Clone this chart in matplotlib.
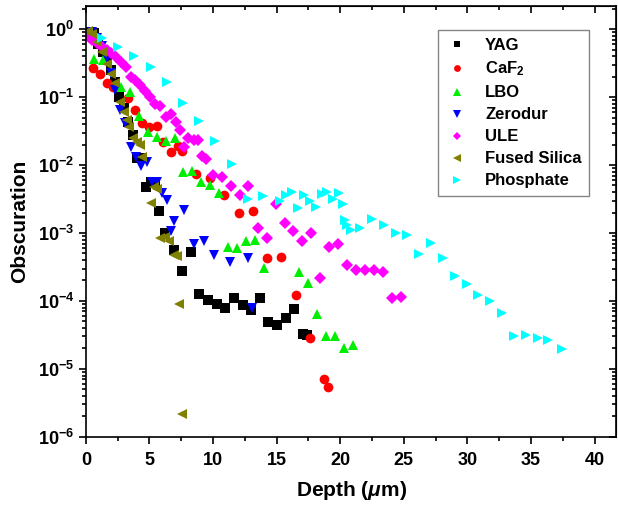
import matplotlib
matplotlib.use('Agg')
import matplotlib.pyplot as plt
from matplotlib.ticker import LogLocator, MultipleLocator, NullFormatter

plt.rcParams['font.family'] = 'Liberation Sans'
plt.rcParams['font.weight'] = 'bold'
plt.rcParams['mathtext.fontset'] = 'custom'
plt.rcParams['mathtext.rm'] = 'Liberation Sans:bold'
plt.rcParams['mathtext.bf'] = 'Liberation Sans:bold'
plt.rcParams['mathtext.it'] = 'Liberation Sans:italic:bold'
plt.rcParams['mathtext.default'] = 'bf'

# depth (um) and obscuration for each material
yag_x = [0.16, 0.63, 0.94, 1.34, 1.65, 1.96, 2.28, 2.59, 2.99, 3.30, 3.69, 4.01, 4.32,
         4.72, 5.11, 5.42, 5.74, 6.21, 6.92, 7.54, 8.25, 8.88, 9.59, 10.29, 10.92,
         11.63, 12.34, 12.97, 13.67, 14.30, 15.01, 15.72, 16.35, 17.05, 17.37]
yag_y = [0.92, 0.87, 0.60, 0.46, 0.35, 0.25, 0.166, 0.10, 0.069, 0.043, 0.0276, 0.0127,
         0.0127, 0.0047, 0.0056, 0.0056, 0.0021, 0.001, 5.6e-4, 2.76e-4, 5.3e-4, 1.27e-4,
         1.03e-4, 9.0e-5, 7.9e-5, 1.1e-4, 8.7e-5, 7.4e-5, 1.1e-4, 4.9e-5, 4.4e-5,
         5.6e-5, 7.6e-5, 3.3e-5, 3.2e-5]

caf2_x = [0.55, 1.10, 1.65, 2.12, 3.30, 3.85, 4.40, 4.95, 5.58, 6.05, 6.68, 7.23, 7.54,
          8.64, 9.74, 10.84, 12.02, 13.12, 14.22, 15.32, 16.50, 17.60, 18.70, 19.02]
caf2_y = [0.267, 0.218, 0.161, 0.140, 0.097, 0.064, 0.041, 0.036, 0.037, 0.022, 0.0155,
          0.019, 0.016, 0.0074, 0.0064, 0.0036, 0.0020, 0.0021, 4.3e-4, 4.4e-4, 1.22e-4,
          2.86e-5, 7.1e-6, 5.4e-6]

lbo_x = [0.63, 1.34, 2.75, 3.46, 4.16, 4.87, 5.58, 6.29, 6.99, 7.62, 8.33, 9.04, 9.74,
         10.45, 11.16, 11.87, 12.57, 13.28, 13.99, 16.74, 17.45, 18.15, 18.86, 19.57,
         20.27, 20.98]
lbo_y = [0.362, 0.35, 0.14, 0.119, 0.053, 0.0306, 0.0258, 0.0225, 0.025, 0.0079, 0.0082,
         0.0056, 0.0051, 0.0039, 6.2e-4, 6.0e-4, 7.6e-4, 7.9e-4, 3.06e-4, 2.67e-4,
         1.84e-4, 6.4e-5, 3.06e-5, 3.06e-5, 2.0e-5, 2.25e-5]

zer_x = [0.47, 0.86, 1.26, 1.65, 1.96, 2.28, 2.67, 3.06, 3.54, 3.93, 4.32, 4.79, 5.19,
         5.58, 5.97, 6.37, 6.68, 6.92, 7.70, 8.49, 9.27, 10.06, 11.32, 12.73, 13.05]
zer_y = [0.90, 0.74, 0.56, 0.37, 0.225, 0.127, 0.064, 0.041, 0.0184, 0.0131, 0.0097,
         0.0111, 0.0056, 0.0056, 0.0039, 0.0031, 0.00107, 0.0015, 0.0022, 6.9e-4,
         7.6e-4, 4.7e-4, 3.75e-4, 4.3e-4, 7.9e-5]

ule_x = [0.24, 0.47, 0.86, 1.26, 1.65, 1.96, 2.36, 2.75, 3.14, 3.54, 3.85, 4.24, 4.64,
         5.03, 5.42, 5.82, 6.29, 6.68, 7.07, 7.39, 7.70, 8.02, 8.49, 8.80, 9.12, 9.43,
         9.98, 10.69, 11.39, 12.10, 12.73, 13.52, 14.22, 14.93, 15.64, 16.27, 16.97,
         17.68, 18.39, 19.10, 19.80, 20.51, 21.22, 21.93, 22.63, 23.34, 24.05, 24.75]
ule_y = [0.76, 0.69, 0.62, 0.54, 0.49, 0.44, 0.39, 0.33, 0.276, 0.197, 0.178, 0.15,
         0.122, 0.10, 0.079, 0.074, 0.051, 0.056, 0.043, 0.033, 0.0184, 0.025, 0.0233,
         0.0233, 0.0136, 0.0123, 0.0071, 0.0067, 0.0049, 0.0036, 0.0049, 0.00119,
         8.4e-4, 0.0027, 0.0014, 0.00107, 7.6e-4, 0.001, 2.2e-4, 6.2e-4, 6.9e-4, 3.4e-4,
         2.86e-4, 2.86e-4, 2.86e-4, 2.67e-4, 1.1e-4, 1.15e-4]

fs_x = [0.16, 0.47, 0.86, 1.26, 1.65, 1.96, 2.28, 2.67, 2.99, 3.22, 3.38, 3.69, 4.01,
        4.24, 4.40, 5.34, 5.58, 5.11, 5.82, 6.21, 6.52, 6.92, 7.15, 7.31, 7.54]
fs_y = [0.95, 0.84, 0.64, 0.46, 0.31, 0.22, 0.161, 0.084, 0.060, 0.046, 0.036, 0.025,
        0.0218, 0.0197, 0.0131, 0.0047, 0.0044, 0.0028, 8.4e-4, 8.7e-4, 7.6e-4, 4.7e-4,
        4.6e-4, 9.0e-5, 2.2e-6]

pho_x = [1.26, 2.51, 3.77, 5.11, 6.37, 7.62, 8.88, 10.14, 11.47, 12.73, 13.91, 15.25,
         15.72, 16.19, 16.66, 17.13, 17.60, 18.07, 18.55, 18.94, 19.41, 19.88, 20.20,
         20.35, 20.51, 20.82, 21.53, 22.48, 23.42, 24.36, 25.23, 26.17, 27.11, 28.06,
         29.00, 29.94, 30.81, 31.75, 32.69, 33.63, 34.58, 35.52, 36.38, 37.41]
pho_y = [0.74, 0.54, 0.40, 0.276, 0.166, 0.082, 0.044, 0.0225, 0.0103, 0.0032, 0.0035,
         0.00296, 0.0036, 0.0040, 0.00233, 0.0036, 0.00296, 0.0024, 0.00375, 0.0040,
         0.0032, 0.0039, 0.0027, 0.00155, 0.00131, 0.0011, 0.00119, 0.0016, 0.00131,
         0.001, 9.3e-4, 4.9e-4, 7.1e-4, 4.3e-4, 2.33e-4, 1.78e-4, 1.22e-4, 1.0e-4,
         6.7e-5, 3.06e-5, 3.2e-5, 2.86e-5, 2.67e-5, 1.97e-5]

series = [
    ('YAG', yag_x, yag_y, 's', '#000000', 6.5),
    (r'CaF$_2$', caf2_x, caf2_y, 'o', '#ff0000', 7),
    ('LBO', lbo_x, lbo_y, '^', '#00ee00', 7.5),
    ('Zerodur', zer_x, zer_y, 'v', '#0000ff', 7.5),
    ('ULE', ule_x, ule_y, 'D', '#ff00ff', 6.3),
    ('Fused Silica', fs_x, fs_y, '<', '#808000', 7.5),
    ('Phosphate', pho_x, pho_y, '>', '#00ffff', 7.5),
]

fig = plt.figure(figsize=(6.18, 5.08), dpi=100)
ax = fig.add_axes([0.139, 0.140, 0.858, 0.848])

for label, xs, ys, m, c, ms in series:
    ax.plot(xs, ys, linestyle='none', marker=m, color=c, markersize=ms,
            markeredgewidth=0, label=label)

ax.set_yscale('log')
ax.set_xlim(0, 41.7)
ax.set_ylim(1e-6, 2.18)
ax.xaxis.set_major_locator(MultipleLocator(5))
ax.xaxis.set_minor_locator(MultipleLocator(2.5))
ax.yaxis.set_major_locator(LogLocator(base=10, numticks=10))
ax.yaxis.set_minor_locator(LogLocator(base=10, subs=range(2, 10), numticks=20))
ax.yaxis.set_minor_formatter(NullFormatter())

for s in ax.spines.values():
    s.set_linewidth(1.2)
ax.tick_params(which='both', direction='out', width=1.2, labelsize=13)
ax.tick_params(which='major', length=5)
ax.tick_params(which='minor', length=3)
ax.tick_params(axis='x', which='major', pad=6)
ax.tick_params(axis='x', which='both', top=False)
ax.tick_params(axis='y', which='both', right=False)
for lab in ax.get_xticklabels() + ax.get_yticklabels():
    lab.set_fontweight('bold')

# inward ticks on the top and right
sec_x = ax.secondary_xaxis('top')
sec_x.xaxis.set_major_locator(MultipleLocator(5))
sec_x.xaxis.set_minor_locator(MultipleLocator(2.5))
sec_x.tick_params(which='both', direction='in', width=1.2, labeltop=False)
sec_x.tick_params(which='major', length=5)
sec_x.tick_params(which='minor', length=3)
sec_y = ax.secondary_yaxis('right')
sec_y.set_yscale('log')
sec_y.yaxis.set_major_locator(LogLocator(base=10, numticks=10))
sec_y.yaxis.set_minor_locator(LogLocator(base=10, subs=range(2, 10), numticks=20))
sec_y.tick_params(which='both', direction='in', width=1.2, labelright=False)
sec_y.tick_params(which='major', length=5)
sec_y.tick_params(which='minor', length=3)

ax.set_xlabel(r'Depth ($\mathit{\mu}$m)', fontsize=15, fontweight='bold', labelpad=7)
ax.set_ylabel('Obscuration', fontsize=15, fontweight='bold', labelpad=6)

leg = ax.legend(loc='upper right', bbox_to_anchor=(0.949, 0.944), fontsize=12,
                frameon=True, fancybox=False, edgecolor='#666666', markerscale=0.7,
                handlelength=1.4, handletextpad=1.0, labelspacing=0.42,
                borderpad=0.45, borderaxespad=0)
leg.get_frame().set_linewidth(1.0)
for t in leg.get_texts():
    t.set_fontweight('bold')

fig.savefig('out.png', dpi=100)
